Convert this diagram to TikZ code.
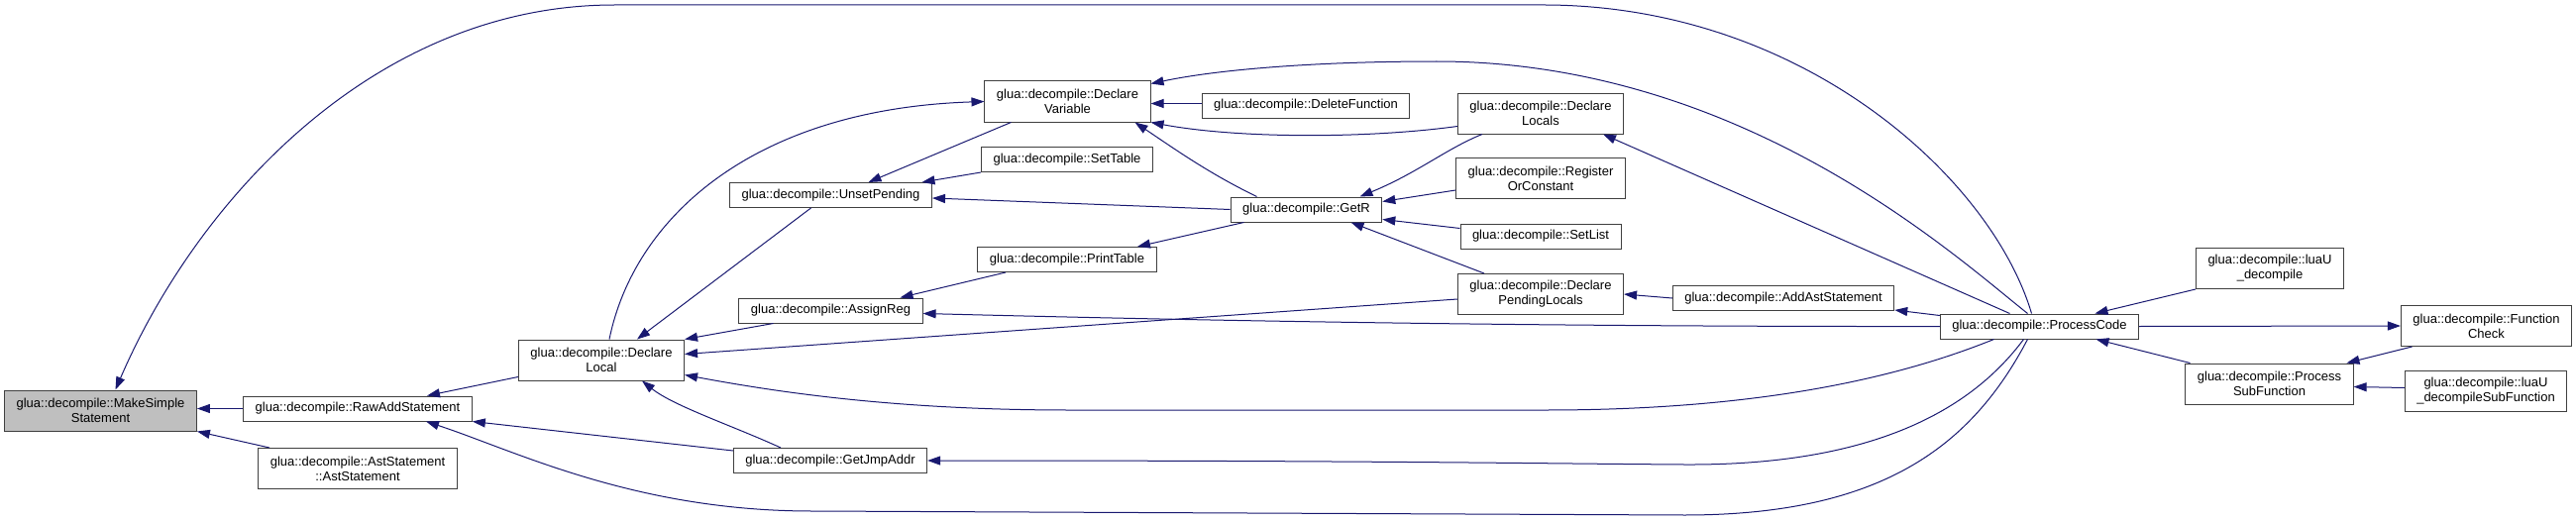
\documentclass[tikz,border=0pt]{standalone}
\usepackage{fontspec}
\setmainfont{Liberation Sans}
\usetikzlibrary{arrows.meta}
\definecolor{callblue}{HTML}{191970}
\definecolor{rootgray}{HTML}{BFBFBF}

\begin{document}
\begin{tikzpicture}[x=1pt, y=-1pt,
    fn/.style={draw=black!75, line width=1pt, fill=white, inner xsep=12pt, inner ysep=3pt, minimum height=25pt, align=center, font=\fontsize{13}{15}\selectfont},
    fntwo/.style={fn, minimum height=41pt},
    call/.style={draw=callblue, line width=1pt, -{Triangle[length=13pt, width=9pt]}}]
    \useasboundingbox (0,0) rectangle (2600,527);

    % Wurzel
    \node[fntwo, fill=rootgray] (ms) at (101.5,414.5) {glua::decompile::MakeSimple\\Statement};

    % Spalte 1
    \node[fn] (ras) at (361,412.5) {glua::decompile::RawAddStatement};
    \node[fntwo] (ast) at (361,473) {glua::decompile::AstStatement\\::AstStatement};

    % Spalte 2
    \node[fntwo] (dl) at (607,363.5) {glua::decompile::Declare\\Local};

    % Spalte 3
    \node[fn] (up) at (838.5,197) {glua::decompile::UnsetPending};
    \node[fn] (ar) at (838.5,313.5) {glua::decompile::AssignReg};
    \node[fn] (gja) at (838,465) {glua::decompile::GetJmpAddr};

    % Spalte 4
    \node[fntwo] (dv) at (1077.5,102.5) {glua::decompile::Declare\\Variable};
    \node[fn] (st) at (1077,161) {glua::decompile::SetTable};
    \node[fn] (pt) at (1077,262) {glua::decompile::PrintTable};

    % Spalte 5
    \node[fn] (df) at (1318,106.5) {glua::decompile::DeleteFunction};
    \node[fn] (getr) at (1318.5,211.5) {glua::decompile::GetR};

    % Spalte 6
    \node[fntwo] (dls) at (1555,114.5) {glua::decompile::Declare\\Locals};
    \node[fntwo] (roc) at (1555,180) {glua::decompile::Register\\OrConstant};
    \node[fn] (sl) at (1555,238.5) {glua::decompile::SetList};
    \node[fntwo] (dpl) at (1555,297) {glua::decompile::Declare\\PendingLocals};

    % Spalte 7
    \node[fn] (aas) at (1800,301) {glua::decompile::AddAstStatement};
    \node[fn] (pc) at (2058.5,329.5) {glua::decompile::ProcessCode};

    % Spalte 8
    \node[fntwo] (lud) at (2291,271) {glua::decompile::luaU\\\_decompile};
    \node[fntwo] (psf) at (2290.5,387.5) {glua::decompile::Process\\SubFunction};

    % Spalte 9
    \node[fntwo] (fc) at (2509.5,329) {glua::decompile::Function\\Check};
    \node[fntwo] (luds) at (2509,394.5) {glua::decompile::luaU\\\_decompileSubFunction};

    % Aufrufe zur Wurzel
    \draw[call] (ras.west) -- (ras.west -| ms.east);
    \draw[call] ([xshift=-89pt]ast.north) -- (ms.south east);
    \draw[call] ([xshift=-8pt]pc.north) .. controls (2010,180) and (1820,6) .. (1560,5) -- (620,5) .. controls (380,5) and (200,200) .. ([xshift=15pt]ms.north);

    % Aufrufe zu RawAddStatement
    \draw[call] ([yshift=4pt]dl.south west) -- ([xshift=70pt]ras.north);
    \draw[call] ([yshift=10pt]gja.west) -- (ras.south east);
    \draw[call] ([xshift=-12pt]pc.south) .. controls (1990,450) and (1900,520) .. (1700,520) -- (820,516) .. controls (640,516) and (520,455) .. ([xshift=69pt]ras.south);

    % Aufrufe zu DeclareLocal
    \draw[call] ([xshift=-20pt]up.south) -- ([xshift=36pt]dl.north);
    \draw[call] ([xshift=-58pt]ar.south) -- (dl.north east);
    \draw[call] ([yshift=-5pt]dpl.west) -- ([yshift=6pt]dl.east);
    \draw[call] ([xshift=-46pt]pc.south) .. controls (1920,380) and (1780,414) .. (1560,414) -- (1080,414) .. controls (900,414) and (780,395) .. ([yshift=-15pt]dl.east);
    \draw[call] ([xshift=-50pt]gja.north) .. controls (740,430) and (680,410) .. ([xshift=41pt]dl.south);

    % Aufrufe zu DeclareVariable
    \draw[call] ([xshift=8pt]dl.north) .. controls (640,220) and (760,110) .. (dv.west);
    \draw[call] ([yshift=2pt]df.west) -- ([yshift=-2pt]dv.east);
    \draw[call] ([yshift=-13pt]dls.west) .. controls (1380,140) and (1250,140) .. (dv.south east);
    \draw[call] ([xshift=-50pt]getr.north) .. controls (1220,175) and (1185,150) .. ([xshift=68pt]dv.south);
    \draw[call] ([xshift=-12pt]pc.north) .. controls (1975,260) and (1760,62) .. (1450,62) .. controls (1330,62) and (1230,70) .. ([yshift=-3pt]dv.north east);

    % Aufrufe zu UnsetPending
    \draw[call] ([xshift=-57pt]dv.south) -- ([xshift=38pt]up.north);
    \draw[call] (st.south west) -- ([xshift=92pt]up.north);
    \draw[call] (getr.west) -- ([yshift=-3pt]up.east);

    % Aufrufe zu AssignReg, PrintTable, GetJmpAddr
    \draw[call] ([xshift=-62pt]pt.south) -- ([xshift=70pt]ar.north);
    \draw[call] (pc.west) .. controls (1500,330) and (1150,322) .. ([yshift=-3pt]ar.east);
    \draw[call] ([xshift=-63pt]getr.south) -- ([xshift=71pt]pt.north);
    \draw[call] ([xshift=-16pt]pc.south) .. controls (1985,420) and (1880,470) .. (1700,469) .. controls (1550,468) and (1400,465) .. (gja.east);

    % Aufrufe zu GetR
    \draw[call] ([xshift=-59pt]dls.south) .. controls (1460,150) and (1430,175) .. ([xshift=54pt]getr.north);
    \draw[call] ([yshift=-12pt]roc.west) -- ([yshift=8pt]getr.east);
    \draw[call] ([yshift=8pt]sl.west) -- ([yshift=-10pt]getr.east);
    \draw[call] ([xshift=-57pt]dpl.north) -- ([xshift=45pt]getr.south);

    % Aufrufe zu DeclareLocals, DeclarePendingLocals, AddAstStatement
    \draw[call] (aas.west) -- (dpl.east);
    \draw[call] ([yshift=-2pt]pc.north west) -- ([yshift=1pt]aas.south east);
    \draw[call] ([xshift=-30pt]pc.north) -- ([xshift=63pt]dls.south);

    % ProcessCode und rechte Seite
    \draw[call] (lud.south west) -- ([xshift=56pt]pc.north);
    \draw[call] (pc.east) -- (fc.west);
    \draw[call] ([xshift=-80pt]psf.north) -- ([xshift=57pt]pc.south);
    \draw[call] ([xshift=-75pt]fc.south) -- ([xshift=78pt]psf.north);
    \draw[call] ([yshift=3pt]luds.west) -- ([yshift=-3pt]psf.east);
\end{tikzpicture}
\end{document}
